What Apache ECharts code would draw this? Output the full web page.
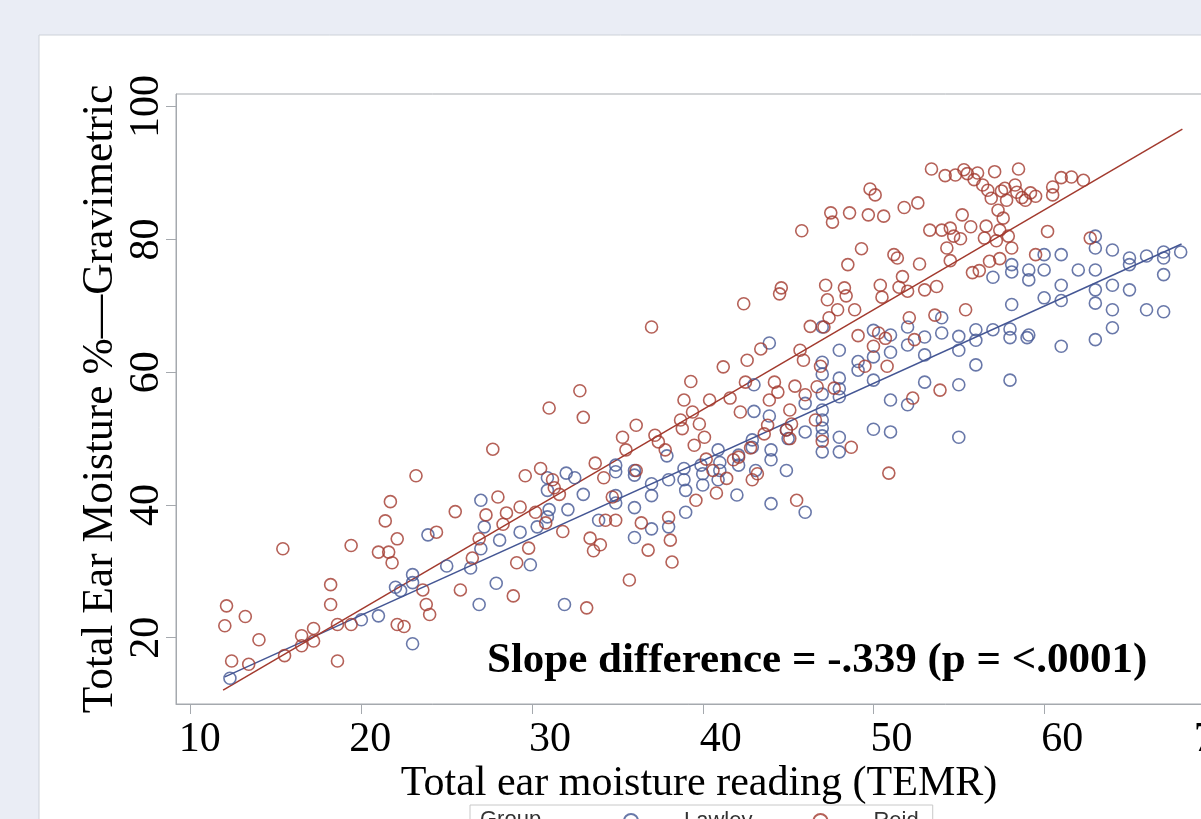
<!DOCTYPE html>
<html>
<head>
<meta charset="utf-8">
<script src="https://cdn.jsdelivr.net/npm/echarts@6/dist/echarts.min.js"></script>
<style>
  html, body { margin: 0; padding: 0; background: #eaedf5; }
  #chart { width: 1201px; height: 819px; }
</style>
</head>
<body>
<div id="chart"></div>
<script>
// axis ticks
const xTicks = [10, 20, 30, 40, 50, 60, 70];
const yTicks = [20, 40, 60, 80, 100];

// Reid group (red) - [TEMR, gravimetric %]
const reidPoints = [
  [12.1,24.8],[12.0,21.8],[12.4,16.5],[13.2,23.2],[13.4,16.0],[14.0,19.7],[15.4,33.4],[15.5,17.3],
  [16.5,20.3],[16.5,18.8],[17.2,21.4],[17.2,19.5],[18.2,28.0],[18.2,25.0],[18.6,22.0],[18.6,16.5],
  [19.4,33.9],[19.4,22.0],[21.0,32.9],[21.4,37.6],[21.7,40.5],[21.6,32.9],[21.8,31.3],[22.1,34.9],
  [22.1,22.0],[22.5,21.7],[23.2,44.4],[23.6,27.2],[23.8,25.0],[24.0,23.5],[24.4,35.9],[25.5,39.0],
  [25.8,27.2],[26.5,32.0],[26.9,34.9],[27.3,38.5],[27.7,48.4],[28.0,41.2],[28.3,37.1],[28.5,38.8],
  [28.9,26.3],[29.1,31.3],[29.3,39.7],[29.6,44.4],[29.8,33.5],[30.2,38.9],[30.5,45.5],[30.8,37.3],
  [31.0,54.6],[31.2,43.8],[31.3,42.6],[31.6,41.6],[31.8,36.0],[32.8,57.2],[33.0,53.2],[33.2,24.5],
  [33.4,35.0],[33.6,33.1],[33.7,46.3],[34.0,34.0],[34.2,44.1],[34.3,37.7],[34.7,41.2],[34.9,37.7],
  [35.3,50.2],[35.5,48.3],[35.7,28.7],[36.1,52.0],[36.1,45.2],[36.4,37.3],[36.8,33.2],[37.0,66.8],
  [37.2,50.5],[37.4,49.5],[37.8,48.3],[38.0,38.1],[38.1,34.7],[38.2,31.4],[38.7,52.8],[38.8,51.5],
  [38.9,55.8],[39.3,58.6],[39.4,54.0],[39.5,49.0],[39.6,40.7],[39.8,52.2],[40.1,50.2],[40.2,46.9],
  [40.4,55.8],[40.6,45.2],[40.8,41.8],[41.2,60.8],[41.4,44.0],[41.6,56.1],[41.8,46.8],[42.1,47.2],
  [42.2,54.0],[42.4,70.3],[42.5,58.5],[42.6,61.8],[42.8,48.6],[42.9,43.8],[43.2,44.7],[43.4,63.5],
  [43.6,50.7],[43.8,52.0],[43.9,55.8],[44.2,58.5],[44.4,57.0],[44.6,72.7],[44.5,71.8],[44.9,51.3],
  [45.1,50.0],[45.1,54.3],[45.2,52.2],[45.4,57.9],[45.5,40.7],[45.7,63.3],[45.8,81.3],[45.9,61.8],
  [46.0,56.6],[46.3,66.9],[46.6,52.8],[46.7,57.8],[46.9,60.9],[47.0,49.6],[47.1,66.8],[47.2,73.1],
  [47.3,70.9],[47.4,68.2],[47.5,84.0],[47.6,82.6],[47.7,57.6],[47.9,69.4],[48.3,72.7],[48.4,71.5],
  [48.5,76.2],[48.6,84.0],[48.7,48.7],[48.9,69.4],[49.1,65.5],[49.3,78.6],[49.5,60.9],[49.7,83.7],
  [49.8,87.6],[50.0,63.9],[50.1,86.7],[50.3,65.9],[50.4,73.1],[50.5,71.3],[50.6,83.5],[50.7,65.1],
  [50.8,60.9],[50.9,44.8],[51.2,77.7],[51.4,77.2],[51.5,72.8],[51.7,74.4],[51.8,84.8],[52.0,72.2],
  [52.1,68.2],[52.3,56.1],[52.4,64.9],[52.6,85.5],[52.7,76.3],[53.0,72.4],[53.3,81.4],[53.4,90.6],
  [53.6,68.6],[53.7,72.9],[53.9,57.3],[54.0,81.4],[54.2,89.6],[54.3,78.7],[54.5,81.7],[54.5,76.8],
  [54.7,80.5],[54.8,89.7],[55.1,80.1],[55.2,83.7],[55.3,90.5],[55.4,69.4],[55.5,89.9],[55.7,81.9],
  [55.8,75.0],[55.9,89.0],[56.1,90.0],[56.2,75.3],[56.4,88.2],[56.5,80.2],[56.6,82.0],[56.7,87.4],
  [56.8,76.7],[56.9,86.2],[57.1,90.2],[57.2,79.8],[57.3,84.4],[57.4,81.4],[57.4,77.1],[57.5,87.3],
  [57.6,83.2],[57.7,87.7],[57.8,85.9],[57.9,80.5],[58.1,78.7],[58.3,88.2],[58.4,87.1],[58.5,90.6],
  [58.7,86.3],[58.9,85.9],[59.2,87.0],[59.5,86.5],[59.5,77.7],[60.2,81.2],[60.5,87.9],[60.5,86.7],
  [61.0,89.3],[61.6,89.4],[62.3,88.9],[62.7,80.2]
];

// Lawley group (blue)
const lawleyPoints = [
  [12.3,13.9],[20.0,22.7],[21.0,23.3],[22.0,27.6],[22.3,27.1],[23.0,29.5],[23.0,28.3],[23.0,19.1],
  [23.9,35.5],[25.0,30.8],[26.4,30.5],[27.0,33.4],[27.0,40.7],[27.2,36.7],[26.9,25.0],[27.9,28.2],
  [28.1,34.7],[29.3,35.9],[29.9,31.0],[30.3,36.7],[30.9,38.2],[30.9,44.1],[30.9,42.2],[31.0,39.3],
  [31.9,25.0],[32.0,44.8],[32.1,39.3],[32.5,44.1],[33.0,41.6],[33.9,37.7],[34.9,40.3],[34.9,41.4],
  [34.9,46.0],[34.9,45.0],[36.0,45.2],[36.0,44.5],[36.0,39.6],[36.0,35.1],[37.0,43.2],[37.0,41.4],
  [37.0,36.4],[37.9,47.4],[38.0,36.7],[38.0,43.8],[38.9,45.5],[38.9,43.8],[39.0,38.9],[39.0,42.2],
  [39.9,46.0],[40.0,43.0],[40.0,44.7],[40.9,48.3],[41.0,45.2],[41.0,46.4],[40.9,43.8],[42.0,41.5],
  [42.1,47.5],[42.1,46.0],[42.9,49.8],[42.9,48.7],[43.0,54.1],[43.0,58.1],[43.1,45.2],[43.9,64.4],
  [43.9,53.4],[44.0,48.3],[44.0,46.8],[44.0,40.2],[44.9,45.2],[44.9,51.3],[45.0,50.0],[46.0,55.3],
  [46.0,51.0],[46.0,38.9],[47.0,54.3],[47.0,52.8],[47.0,51.6],[47.0,50.4],[47.0,56.7],[47.0,59.7],
  [47.0,61.5],[47.0,48.0],[47.0,66.8],[48.0,59.1],[48.0,57.5],[48.0,56.3],[48.0,50.2],[48.0,48.0],
  [48.0,63.3],[49.1,60.3],[49.1,61.6],[50.0,51.4],[50.0,58.8],[50.0,62.3],[50.0,66.3],[51.0,51.0],
  [51.0,55.8],[51.0,65.6],[51.0,63.0],[52.0,66.8],[52.0,55.1],[52.0,64.1],[53.0,62.6],[53.0,58.5],
  [53.0,65.3],[54.0,68.2],[54.0,65.9],[55.0,63.3],[55.0,50.2],[55.0,58.1],[55.0,65.4],[56.0,66.4],
  [56.0,61.1],[56.0,64.8],[57.0,66.4],[57.0,74.3],[58.0,58.8],[58.0,66.5],[58.0,65.2],[58.1,70.2],
  [58.1,76.2],[58.1,75.1],[59.0,65.2],[59.1,65.6],[59.1,75.4],[59.1,73.9],[60.0,77.7],[60.0,75.4],
  [60.0,71.2],[61.0,63.9],[61.0,70.8],[61.0,73.1],[61.0,77.7],[62.0,75.4],[63.0,80.5],[63.0,78.7],
  [63.0,75.4],[63.0,72.4],[63.0,70.4],[63.0,64.9],[64.0,78.4],[64.0,69.4],[64.0,66.7],[64.0,73.1],
  [65.0,77.2],[65.0,76.2],[65.0,72.4],[66.0,69.4],[66.0,77.5],[67.0,78.1],[67.0,77.2],[67.0,69.1],
  [67.0,74.7],[68.0,78.1]
];

// fitted regression lines (end points)
const reidFit = [[11.9, 12.1], [68.1, 96.6]];
const lawleyFit = [[12.0, 14.1], [68.05, 79.3]];

const blue = '#445694';
const red = '#a23a2e';
const axisGray = '#a5a9ae';
const serif = '"Liberation Serif", "Times New Roman", serif';

const chart = echarts.init(document.getElementById('chart'));

// scatter style: hollow circles
const dotSeries = (name, data, color) => ({
  name: name,
  type: 'scatter',
  data: data,
  symbol: 'circle',
  symbolSize: 12,
  itemStyle: { color: 'rgba(0,0,0,0)', borderColor: color, borderWidth: 1.6 },
  z: 3
});

const fitSeries = (name, data, color) => ({
  name: name,
  type: 'line',
  data: data,
  showSymbol: false,
  silent: true,
  lineStyle: { color: color, width: 1.5 },
  z: 2
});

// tick labels in the source sit a little right of their ticks
const xLabel = v => {
  if (v <= 20) return '{n|' + v + '}';
  if (v >= 70) return '{z|' + v + '}';
  return '{w|' + v + '}';
};

const option = {
  backgroundColor: '#eaedf5',
  animation: false,
  graphic: [
    {
      type: 'rect', z: -10, silent: true,
      shape: { x: 39, y: 35, width: 1300, height: 900 },
      style: { fill: '#fff', stroke: '#cdd1d8', lineWidth: 1 }
    },
    {
      type: 'text', x: 487, y: 661, z: 10,
      style: { text: 'Slope difference = -.339 (p = <.0001)', font: 'bold 43px ' + serif, fill: '#000', verticalAlign: 'middle' }
    },
    {
      type: 'text', x: 480, y: 809, z: 10,
      style: { text: 'Group', font: '22px "Liberation Sans"', fill: '#333' }
    }
  ],
  grid: {
    left: 176, top: 94, width: 1046, height: 610,
    outerBoundsMode: 'none',
    show: true, borderColor: axisGray, borderWidth: 1
  },
  legend: {
    left: 470, top: 805,
    data: ['Lawley', 'Reid'],
    padding: [5, 14, 5, 153],
    borderColor: '#c8c8c8', borderWidth: 1,
    itemGap: 60, itemWidth: 14, itemHeight: 14,
    textStyle: { fontFamily: 'Liberation Sans', fontSize: 22, color: '#333', padding: [0, 0, 0, 41] }
  },
  xAxis: {
    type: 'value',
    min: 9.14, max: 70.42,
    splitLine: { show: false },
    axisLine: { lineStyle: { color: axisGray } },
    axisTick: { length: 10, lineStyle: { color: axisGray }, customValues: xTicks },
    axisLabel: {
      customValues: xTicks,
      margin: 15,
      color: '#000',
      hideOverlap: false,
      formatter: xLabel,
      rich: {
        n: { fontFamily: serif, fontSize: 42, color: '#000', padding: [0, 0, 0, 18] },
        w: { fontFamily: serif, fontSize: 42, color: '#000', padding: [0, 0, 0, 36] },
        z: { fontFamily: serif, fontSize: 42, color: '#000' }
      }
    },
    name: 'Total ear moisture reading (TEMR)',
    nameLocation: 'middle',
    nameGap: 59,
    nameMoveOverlap: false,
    nameTextStyle: { fontFamily: serif, fontSize: 42, color: '#000' }
  },
  yAxis: {
    type: 'value',
    min: 10.02, max: 101.9,
    splitLine: { show: false },
    axisLine: { lineStyle: { color: axisGray } },
    axisTick: { length: 10, lineStyle: { color: axisGray }, customValues: yTicks },
    axisLabel: {
      customValues: yTicks,
      rotate: 90,
      margin: 8,
      fontFamily: serif, fontSize: 42, color: '#000'
    },
    name: 'Total Ear Moisture %\u2014Gravimetric',
    nameLocation: 'middle',
    nameGap: 53,
    nameMoveOverlap: false,
    nameTextStyle: { fontFamily: serif, fontSize: 43.5, color: '#000' }
  },
  series: [
    fitSeries('Lawley fit', lawleyFit, blue),
    fitSeries('Reid fit', reidFit, red),
    dotSeries('Lawley', lawleyPoints, blue),
    dotSeries('Reid', reidPoints, red)
  ]
};

chart.setOption(option);
</script>
</body>
</html>
